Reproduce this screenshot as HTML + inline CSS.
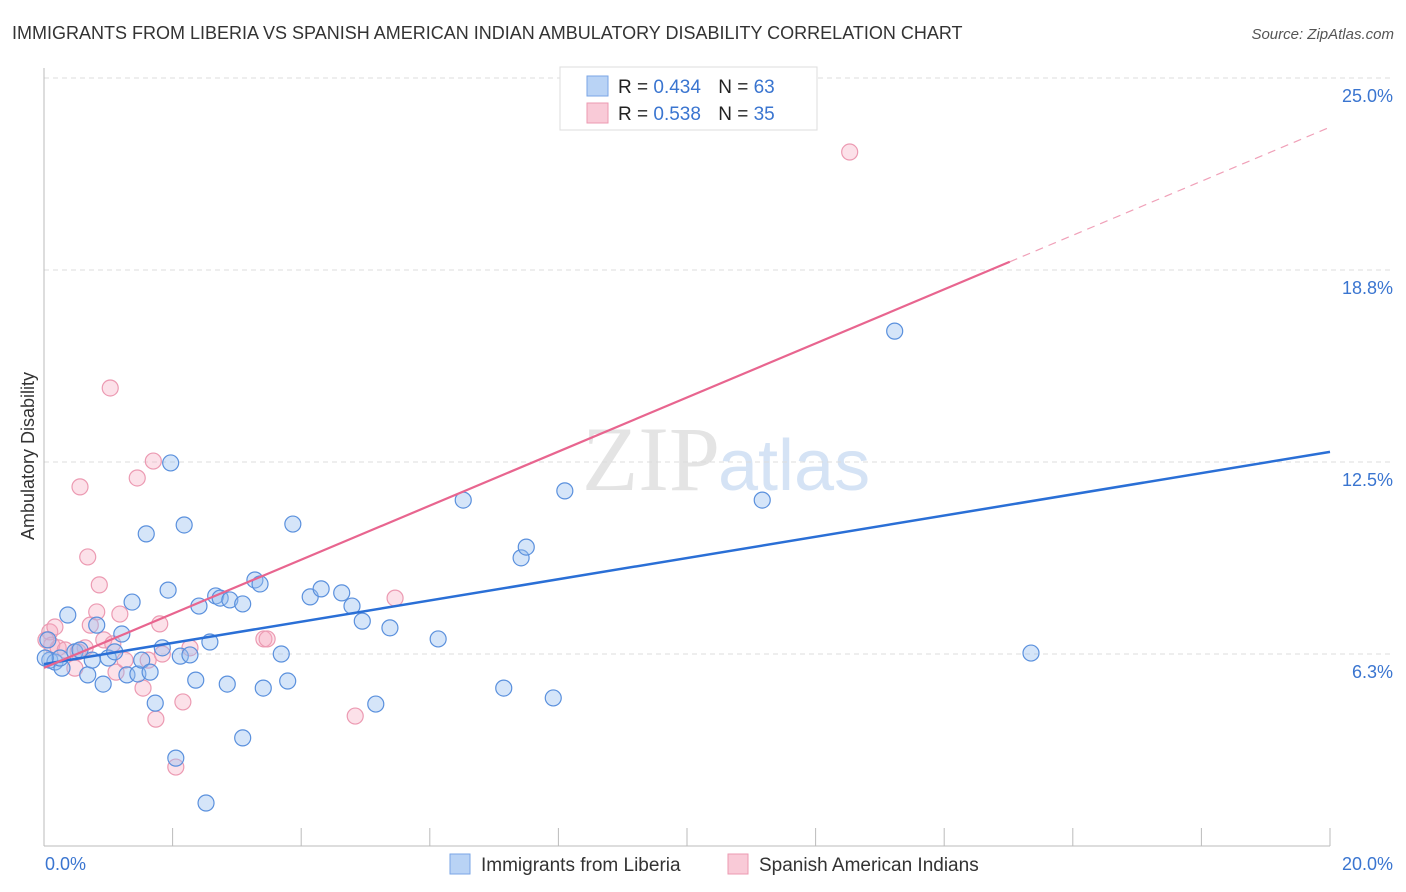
<!DOCTYPE html>
<html><head><meta charset="utf-8"><style>
body{margin:0;background:#fff;font-family:"Liberation Sans",sans-serif;}
svg{display:block}
</style></head><body>
<svg id="chart" width="1406" height="892" xmlns="http://www.w3.org/2000/svg">
<text x="12" y="39" font-size="18" fill="#333">IMMIGRANTS FROM LIBERIA VS SPANISH AMERICAN INDIAN AMBULATORY DISABILITY CORRELATION CHART</text>
<text x="1394" y="39" font-size="15" fill="#555" font-style="italic" text-anchor="end">Source: ZipAtlas.com</text>
<text x="720" y="490" font-size="92" fill="#e4e4e4" text-anchor="end" font-family="Liberation Serif">ZIP</text>
<text x="718" y="490" font-size="72" fill="#d5e3f5">atlas</text>
<g id="grid"></g>
<g id="axes"></g>
<g id="pts"></g>
<g id="lines"></g>
<text transform="translate(34,456) rotate(-90)" font-size="18" fill="#333" text-anchor="middle">Ambulatory Disability</text>
<text x="45" y="870" font-size="18" fill="#3a75d0">0.0%</text>
<text x="1393" y="870" font-size="18" fill="#3a75d0" text-anchor="end">20.0%</text>
<g>
<rect x="560" y="67" width="257" height="63" fill="#fff" stroke="#ddd"/>
<rect x="587" y="76" width="21" height="20" fill="#b9d3f5" stroke="#7aa6e6"/>
<rect x="587" y="103" width="21" height="20" fill="#f9cad7" stroke="#ec9ab2"/>
<text x="618" y="93" font-size="19" fill="#222">R = <tspan fill="#3a75d0">0.434</tspan>   <tspan dx="12">N = </tspan><tspan fill="#3a75d0">63</tspan></text>
<text x="618" y="120" font-size="19" fill="#222">R = <tspan fill="#3a75d0"> 0.538</tspan>   <tspan dx="12">N = </tspan><tspan fill="#3a75d0">35</tspan></text>
</g>
<g>
<rect x="450" y="854" width="20" height="20" fill="#b9d3f5" stroke="#7aa6e6"/>
<text x="481" y="871" font-size="19" fill="#333">Immigrants from Liberia</text>
<rect x="728" y="854" width="20" height="20" fill="#f9cad7" stroke="#ec9ab2"/>
<text x="759" y="871" font-size="19" fill="#333">Spanish American Indians</text>
</g>
</svg>
<script>
const yTicks=[6.25,12.5,18.75,25];
const yTickLabels=["6.3%","12.5%","18.8%","25.0%"];
const blueX=[0.09,0.17,0.28,0.25,0.37,0.48,0.56,0.68,0.75,0.82,0.92,1.00,1.10,1.21,1.29,1.37,1.46,1.52,1.59,1.65,1.73,1.84,1.93,1.97,2.05,2.12,2.18,2.27,2.36,2.41,2.52,2.58,2.67,2.74,2.85,2.89,3.09,3.09,3.28,3.36,3.41,3.69,3.79,3.87,4.14,4.31,4.63,4.79,4.95,5.16,5.38,6.13,6.52,7.15,7.42,7.50,7.92,8.10,11.17,13.23,15.35,0.02,0.06];
const blueY=[6.05,5.99,5.79,6.12,7.52,6.32,6.38,5.57,6.05,7.19,5.27,6.12,6.32,6.90,5.57,7.94,5.60,6.05,10.16,5.66,4.65,6.45,8.33,12.47,2.86,6.18,10.45,6.22,5.40,7.81,1.40,6.64,8.14,8.07,5.27,8.01,7.88,3.52,8.66,8.53,5.14,6.25,5.37,10.48,8.11,8.37,8.24,7.81,7.32,4.62,7.10,6.74,11.26,5.14,9.38,9.73,4.82,11.56,11.26,16.76,6.28,6.12,6.71];
const pinkX=[0.09,0.17,0.12,0.22,0.33,0.48,0.53,0.56,0.64,0.68,0.72,0.82,0.86,0.93,1.03,1.07,1.12,1.18,1.26,1.45,1.54,1.62,1.70,1.74,1.80,1.84,2.05,2.16,2.27,3.42,3.47,4.84,5.46,12.53,0.03];
const pinkY=[6.97,7.13,6.54,6.45,6.38,5.79,6.32,11.69,6.45,9.41,7.19,7.62,8.50,6.71,14.91,6.58,5.66,7.55,6.05,11.98,5.14,6.05,12.53,4.13,7.23,6.25,2.57,4.69,6.45,6.74,6.74,4.23,8.07,22.59,6.71];
const blueTrend=[5.92,12.83];
const pinkTrend=[5.8,0.88];
const NS="http://www.w3.org/2000/svg";
const X=v=>44+v*64.3, Y=v=>846-v*30.72;
function mk(t,a,p){const e=document.createElementNS(NS,t);for(const k in a)e.setAttribute(k,a[k]);p.appendChild(e);return e;}
const grid=document.getElementById('grid'),axes=document.getElementById('axes');
yTicks.forEach((t,i)=>{
 const l=mk('line',{x1:44,x2:1394,y1:Y(t),y2:Y(t),stroke:'#ddd','stroke-dasharray':'5,4'},grid);
 
 
 const tx=mk('text',{x:1393,y:Y(t)+24,'font-size':18,fill:'#3a75d0','text-anchor':'end'},axes);
 tx.textContent=yTickLabels[i];
 
 
});
const ax=mk('line',{x1:44,x2:44,y1:68,y2:846,stroke:'#bbb'},axes);


const bx=mk('line',{x1:44,x2:1330,y1:846,y2:846,stroke:'#bbb'},axes);


for(let i=1;i<=10;i++){
 const t=mk('line',{x1:X(i*2),x2:X(i*2),y1:828,y2:846,stroke:'#bbb'},axes);
 
 
}
const pts=document.getElementById('pts');
pinkX.forEach((v,i)=>{
 const c=mk('circle',{cx:X(v),cy:Y(pinkY[i]),r:8,fill:'rgba(245,170,192,0.35)',stroke:'#ec9ab2','stroke-width':1.2},pts);
 
 
});
blueX.forEach((v,i)=>{
 const c=mk('circle',{cx:X(v),cy:Y(blueY[i]),r:8,fill:'rgba(150,190,240,0.4)',stroke:'#5a90dd','stroke-width':1.2},pts);
 
 
});
const lines=document.getElementById('lines');
const bl=mk('line',{x1:X(0),y1:Y(blueTrend[0]),x2:X(20),y2:Y(blueTrend[1]),stroke:'#2a6fd6','stroke-width':2.5},lines);


const pe=15.02;
const pl=mk('line',{x1:X(0),y1:Y(pinkTrend[0]),x2:X(pe),y2:Y(pinkTrend[0]+pinkTrend[1]*pe),stroke:'#e8658f','stroke-width':2.2},lines);


const pd=mk('line',{x1:X(pe),y1:Y(pinkTrend[0]+pinkTrend[1]*pe),x2:X(20),y2:Y(pinkTrend[0]+pinkTrend[1]*20),stroke:'#f0a0b8','stroke-width':1.2,'stroke-dasharray':'8,6'},lines);


</script>
</body></html>
